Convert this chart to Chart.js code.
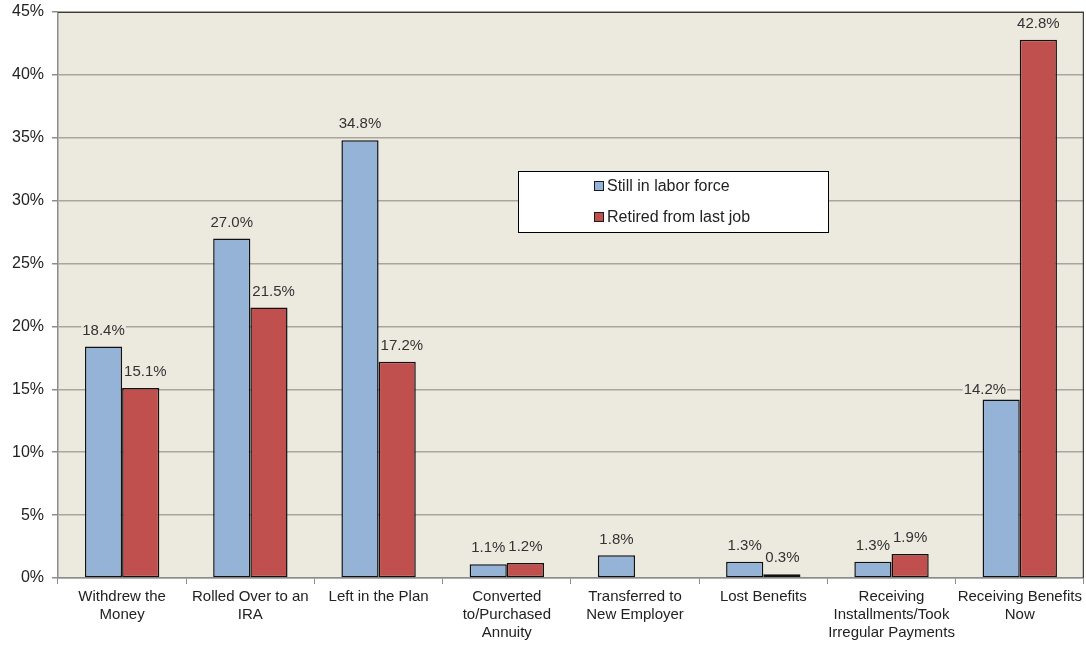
<!DOCTYPE html>
<html lang="en">
<head>
  <meta charset="UTF-8">
  <title>Distribution Disposition by Labor Force Status</title>
  <style>
    body {
      margin: 0;
      background: #ffffff;
    }
    #wrap {
      width: 1086px;
      height: 645px;
      position: relative;
    }
  </style>
  <script src="https://cdn.jsdelivr.net/npm/chart.js"></script>
</head>
<body>
  <div id="wrap">
    <canvas id="chart"></canvas>
  </div>

  <script>
    const categories = [
      ['Withdrew the', 'Money'],
      ['Rolled Over to an', 'IRA'],
      ['Left in the Plan'],
      ['Converted', 'to/Purchased', 'Annuity'],
      ['Transferred to', 'New Employer'],
      ['Lost Benefits'],
      ['Receiving', 'Installments/Took', 'Irregular Payments'],
      ['Receiving Benefits', 'Now']
    ];
    const stillWorking = [18.4, 27.0, 34.8, 1.1, 1.8, 1.3, 1.3, 14.2];
    const retired = [15.1, 21.5, 17.2, 1.2, null, 0.3, 1.9, 42.8];
    const seriesNames = ['Still in labor force', 'Retired from last job'];
    const yTicks = [0, 5, 10, 15, 20, 25, 30, 35, 40, 45];

    const plotBg = '#ECE9DF';
    const fontFamily = '"Liberation Sans", Arial, sans-serif';

    // beige plot area + dark frame on top/right
    const plotFrame = {
      id: 'plotFrame',
      beforeDraw(chart) {
        const a = chart.chartArea, ctx = chart.ctx;
        ctx.save();
        ctx.fillStyle = plotBg;
        ctx.fillRect(a.left, a.top, a.right - a.left, a.bottom - a.top);
        ctx.restore();
      },
      afterDraw(chart) {
        const a = chart.chartArea, ctx = chart.ctx;
        ctx.save();
        ctx.strokeStyle = '#3c3c3c';
        ctx.lineWidth = 1.2;
        ctx.beginPath();
        ctx.moveTo(a.left, a.top + 0.5);
        ctx.lineTo(a.right - 0.5, a.top + 0.5);
        ctx.lineTo(a.right - 0.5, a.bottom);
        ctx.stroke();
        ctx.restore();
      }
    };

    // value labels above bars, with a small patch hiding the gridlines
    const valueLabels = {
      id: 'valueLabels',
      afterDatasetsDraw(chart) {
        const ctx = chart.ctx;
        ctx.save();
        ctx.font = '15px ' + fontFamily;
        ctx.textBaseline = 'middle';
        ctx.textAlign = 'center';
        chart.data.datasets.forEach((ds, di) => {
          const meta = chart.getDatasetMeta(di);
          const otherMeta = chart.getDatasetMeta(1 - di);
          meta.data.forEach((bar, i) => {
            const v = ds.data[i];
            if (v === null || v === undefined) return;
            const txt = v.toFixed(1) + '%';
            const w = ctx.measureText(txt).width;
            let cx = bar.x;
            let cy = bar.y - 16;
            const other = chart.data.datasets[1 - di].data[i];
            const ob = otherMeta.data[i];
            if (other !== null && ob && ob.y < cy + 8) {
              if (di === 0) {
                // taller neighbour on the right: tuck the label to the left
                cx = bar.x + 5 - w / 2;
                cy = bar.y - 10;
              } else {
                // taller neighbour on the left: push the label clear of it
                cx = ob.x + ob.width / 2 + 2 + w / 2;
              }
            }
            ctx.fillStyle = plotBg;
            ctx.fillRect(cx - w / 2 - 1, cy - 5, w + 2, 10);
            ctx.fillStyle = '#333333';
            ctx.fillText(txt, cx, cy);
          });
        });
        ctx.restore();
      }
    };

    // boxed legend sitting inside the plot
    const boxLegend = {
      id: 'boxLegend',
      afterDraw(chart) {
        const a = chart.chartArea, ctx = chart.ctx;
        const x = a.left + 460, y = a.top + 159, w = 310, h = 61;
        ctx.save();
        ctx.fillStyle = '#ffffff';
        ctx.fillRect(x, y, w, h);
        ctx.strokeStyle = '#000000';
        ctx.lineWidth = 1;
        ctx.strokeRect(x + 0.5, y + 0.5, w, h);
        ctx.font = '16px ' + fontFamily;
        ctx.textBaseline = 'middle';
        ctx.textAlign = 'left';
        chart.data.datasets.forEach((ds, i) => {
          const ry = y + 15 + i * 31;
          ctx.fillStyle = ds.backgroundColor;
          ctx.fillRect(x + 76, ry - 5, 9, 9);
          ctx.strokeStyle = '#1a1a1a';
          ctx.strokeRect(x + 76.5, ry - 4.5, 9, 9);
          ctx.fillStyle = '#222222';
          ctx.fillText(seriesNames[i], x + 89, ry + 1);
        });
        ctx.restore();
      }
    };

    new Chart(document.getElementById('chart'), {
      type: 'bar',
      data: {
        labels: categories,
        datasets: [
          {
            label: seriesNames[0],
            data: stillWorking,
            backgroundColor: '#95B3D7',
            borderColor: '#111111',
            borderWidth: 1.5,
            borderSkipped: false
          },
          {
            label: seriesNames[1],
            data: retired,
            backgroundColor: '#C0504D',
            borderColor: '#111111',
            borderWidth: 1.5,
            borderSkipped: false
          }
        ]
      },
      options: {
        responsive: true,
        maintainAspectRatio: false,
        animation: false,
        layout: { padding: { top: 0, right: 2, left: 0, bottom: 0 } },
        datasets: {
          bar: { categoryPercentage: 0.58, barPercentage: 1.0 }
        },
        plugins: {
          legend: { display: false },
          tooltip: { enabled: false }
        },
        scales: {
          x: {
            offset: true,
            grid: {
              offset: true,
              drawOnChartArea: false,
              drawTicks: true,
              tickLength: 6,
              color: '#8c8c8c'
            },
            border: { color: '#8c8c8c', width: 1.5 },
            ticks: {
              color: '#222222',
              font: { family: fontFamily, size: 15 },
              padding: 4,
              maxRotation: 0,
              autoSkip: false
            },
            afterFit(scale) { scale.height = 67; }
          },
          y: {
            min: 0,
            max: 45,
            afterBuildTicks(scale) {
              scale.ticks = yTicks.map(v => ({ value: v }));
            },
            grid: {
              color: '#a8a69f',
              lineWidth: 1.5,
              tickLength: 6,
              tickColor: '#8c8c8c'
            },
            border: { color: '#8c8c8c', width: 1.5 },
            ticks: {
              color: '#222222',
              font: { family: fontFamily, size: 16 },
              padding: 8,
              callback: v => v + '%'
            },
            afterFit(scale) {
              scale.width = 58;
              scale.paddingTop = 12;
            }
          }
        }
      },
      plugins: [plotFrame, valueLabels, boxLegend]
    });
  </script>
</body>
</html>
